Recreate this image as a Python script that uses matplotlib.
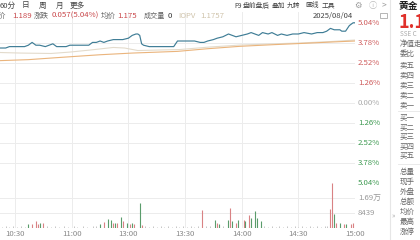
import matplotlib
matplotlib.use('Agg')
import matplotlib.pyplot as plt
from matplotlib.patches import Rectangle
from matplotlib.transforms import blended_transform_factory

plt.rcParams['font.family'] = ['Noto Sans CJK SC', 'DejaVu Sans']

# 数据 (分钟: 9:30 开盘 = 0, 午休合并, 15:00 = 240)
prev_close = 1.132

price_time = [52, 55, 57, 59, 63, 65, 67, 69, 71, 73, 76, 78, 80, 82, 85, 87, 89, 94,
              99, 101, 103, 105, 107, 109, 112, 114, 117, 120, 122, 124, 125, 126, 127,
              128, 131, 137, 142, 144, 146, 147, 151, 155, 158, 160, 162, 165, 167, 170,
              173, 175, 177, 180, 183, 185, 187, 189, 191, 194, 196, 199, 201, 204, 207,
              210, 213, 217, 220, 223, 225, 227, 229, 232, 233, 235, 237, 238, 239, 240]
price = [1.171, 1.171, 1.172, 1.172, 1.172, 1.172, 1.173, 1.175, 1.173, 1.173, 1.172,
         1.173, 1.174, 1.172, 1.172, 1.172, 1.173, 1.173, 1.173, 1.175, 1.175, 1.176,
         1.175, 1.176, 1.177, 1.177, 1.177, 1.178, 1.180, 1.181, 1.181, 1.180, 1.174,
         1.173, 1.172, 1.172, 1.172, 1.172, 1.176, 1.176, 1.176, 1.176, 1.175, 1.175,
         1.176, 1.177, 1.178, 1.179, 1.181, 1.180, 1.179, 1.180, 1.181, 1.182, 1.181,
         1.180, 1.182, 1.181, 1.182, 1.180, 1.181, 1.180, 1.181, 1.181, 1.182, 1.181,
         1.182, 1.182, 1.183, 1.185, 1.184, 1.184, 1.183, 1.183, 1.187, 1.188, 1.189, 1.189]

avg_time = [52, 67, 85, 105, 122, 146, 162, 179, 197, 214, 228, 240]
avg_price = [1.1620, 1.1627, 1.1644, 1.1662, 1.1674, 1.1686, 1.1705, 1.1722, 1.1734,
             1.1744, 1.1753, 1.1760]

iopv_time = [52, 63, 79, 89, 100, 112, 118, 125, 137, 147, 163, 179, 195, 211, 227, 240]
iopv = [1.1678, 1.1674, 1.1671, 1.1681, 1.1696, 1.1714, 1.1710, 1.1692, 1.1696, 1.1699,
        1.1717, 1.1731, 1.1739, 1.1746, 1.1756, 1.1767]

vol_time = [67, 69, 71, 72, 73, 75, 105, 107, 109, 111, 112, 113, 114, 116, 117, 119,
            121, 122, 123, 126, 127, 159, 166, 167, 168, 173, 174, 175, 177, 178, 181,
            182, 184, 185, 187, 188, 190, 227, 228, 229, 230, 232, 234, 235, 238, 239]
vol = [1800, 1800, 3400, 1800, 2400, 2400, 1800, 3000, 4800, 4000, 2800, 2400, 2800,
       6000, 3400, 2400, 1800, 2400, 1800, 13900, 1400, 9800, 4400, 2800, 2000, 4400,
       10900, 3400, 2400, 4400, 4400, 3400, 6800, 5400, 9600, 5400, 3400, 10400, 25300,
       7400, 2400, 2400, 1800, 1800, 2000, 2800]
vol_up = [0, 1, 1, 1, 0, 1, 0, 1, 0, 0, 1, 0, 1, 0, 1, 0, 1, 0, 1, 0, 1, 1, 0, 1, 0, 0,
          1, 0, 1, 0, 1, 0, 1, 0, 0, 0, 0, 1, 1, 0, 1, 0, 1, 0, 1, 1]

small_time = [53, 55, 57, 59, 61, 63, 65, 77, 79, 81, 83, 86, 88, 91, 93, 96, 98, 101,
              103, 129, 131, 133, 135, 137, 139, 141, 143, 145, 147, 149, 151, 153, 155,
              157, 161, 163, 170, 192, 194, 196, 198, 200, 202, 204, 206, 208, 210, 212,
              214, 216, 218, 220, 222, 224, 225]
small_vol = [500, 600, 500, 600, 500, 600, 500, 600, 500, 600, 500, 600, 500, 600, 500,
             600, 500, 700, 600, 600, 500, 600, 500, 600, 500, 600, 500, 600, 500, 600,
             500, 600, 500, 600, 700, 600, 700, 600, 500, 600, 500, 600, 500, 700, 500,
             600, 500, 600, 500, 700, 500, 600, 500, 700, 800]

pct_ticks = [5.04, 3.78, 2.52, 1.26, 0.00, -1.26, -2.52, -3.78, -5.04]
vol_ticks = [8439, 16878]
time_ticks = [60, 90, 120, 150, 180, 210, 240]
time_labels = ['10:30', '11:00', '13:00', '13:30', '14:00', '14:30', '15:00']

W, H = 420, 240
fig = plt.figure(figsize=(4.2, 2.4), dpi=100)
fig.patch.set_facecolor('white')


def px_axes(x0, y0, x1, y1):
    return fig.add_axes([x0 / W, 1 - y1 / H, (x1 - x0) / W, (y1 - y0) / H])


def ftext(x, y, s, **kw):
    kw.setdefault('va', 'center')
    kw.setdefault('fontsize', 5.4)
    fig.text(x / W, 1 - y / H, s, **kw)


grid_c = '#ececec'

# 价格区
ax = px_axes(0, 12, 355, 182.7)
pct = [(p / prev_close - 1) * 100 for p in price]
pct_avg = [(p / prev_close - 1) * 100 for p in avg_price]
pct_iopv = [(p / prev_close - 1) * 100 for p in iopv]
ax.plot(iopv_time, pct_iopv, color='#e3dbcc', lw=0.8)
ax.plot(avg_time, pct_avg, color='#eab47c', lw=0.8)
ax.plot(price_time, pct, color='#3f7d96', lw=0.85)
ax.set_xlim(52, 240)
ax.set_ylim(-5.04, 5.04 + 10.7 * 0.063)
ax.set_xticks(time_ticks[:-1])
ax.set_yticks(pct_ticks)
ax.grid(True, color=grid_c, lw=0.7)
ax.tick_params(length=0, labelbottom=False, labelleft=False)
for s in ax.spines.values():
    s.set_visible(False)

tr = blended_transform_factory(fig.transFigure, ax.transData)
for v in pct_ticks:
    if v > 0:
        c = '#cf5c5c'
    elif v < 0:
        c = '#3f9a52'
    else:
        c = '#aaaaaa'
    ax.text(358 / W, v, '%.2f%%' % abs(v), transform=tr, color=c, fontsize=5.6,
            va='center', ha='left', clip_on=False)

# 成交量区
axv = px_axes(0, 182.7, 355, 227.5)
for t, v, u in zip(vol_time, vol, vol_up):
    axv.vlines(t, 0, v, color='#d98284' if u else '#5a9c6b', lw=0.8)
axv.vlines(small_time, 0, small_vol, color='#bcbcbc', lw=0.6)
axv.set_xlim(52, 240)
axv.set_ylim(0, 25317)
axv.set_yticks(vol_ticks)
axv.set_xticks(time_ticks)
axv.set_xticklabels(time_labels, fontsize=5.6, color='#888888')
axv.grid(True, color=grid_c, lw=0.7)
axv.tick_params(length=0, labelleft=False, pad=1.5)
for s in axv.spines.values():
    s.set_visible(False)
trv = blended_transform_factory(fig.transFigure, axv.transData)
axv.text(358 / W, 16878, '1.69万', transform=trv, color='#999999', fontsize=5.6,
         va='center', ha='left', clip_on=False)
axv.text(358 / W, 8439, '8439', transform=trv, color='#999999', fontsize=5.6,
         va='center', ha='left', clip_on=False)

# 顶部工具栏
for x, s in [(0, '60分'), (22, '日'), (39, '周'), (56, '月'), (70, '更多')]:
    ftext(x, 5.5, s, color='#444444', fontsize=5.5)
for x, s in [(234, 'F9'), (243, '盘前盘后'), (272, '叠加'), (287, '九转'),
             (305, '画线'), (322, '工具')]:
    ftext(x, 5.5, s, color='#444444', fontsize=4.9)
ftext(354, 5.5, '⚙', color='#999999', fontsize=6)
ftext(369, 5.5, 'ⓘ', color='#bbbbbb', fontsize=6)
ftext(382, 5.5, '>', color='#999999', fontsize=6)

ftext(-2, 16, '价', color='#666666')
ftext(12, 16, '1.189', color='#c9474a', fontsize=5.6)
ftext(34, 16, '涨跌', color='#666666')
ftext(52, 16, '0.057(5.04%)', color='#c9474a', fontsize=5.6)
ftext(101, 16, '均价', color='#666666')
ftext(117, 16, '1.175', color='#c9474a', fontsize=5.6)
ftext(144, 16, '成交量', color='#666666', fontsize=5.1)
ftext(168, 16, '0', color='#333333', fontsize=5.6)
ftext(178, 16, 'IOPV', color='#cfc3aa', fontsize=5.6)
ftext(200, 16, '1.1757', color='#cfc3aa', fontsize=5.6)
ftext(353, 16, '2025/08/04', color='#444444', ha='right', fontsize=5.5)
fig.add_artist(Rectangle((380 / W, 1 - 18 / H), 7 / W, 5 / H, fill=False,
                         edgecolor='#aaaaaa', lw=0.6))

# 右侧面板
fig.add_artist(plt.Line2D([390 / W, 390 / W], [0, 1], color='#e6e6e6', lw=0.8))
fig.add_artist(plt.Line2D([398 / W, 1], [1 - 111 / H, 1 - 111 / H], color='#e6e6e6', lw=0.6))
fig.add_artist(plt.Line2D([398 / W, 1], [1 - 164 / H, 1 - 164 / H], color='#e6e6e6', lw=0.6))
ftext(399, 6.5, '黄金', color='#222222', fontsize=7, weight='bold')
ftext(398, 22, '1.1', color='#e0302a', fontsize=13, weight='bold')
ftext(400, 34, 'SSE C', color='#aaaaaa', fontsize=4.6)
side = [('净值走', 44), ('委比', 54), ('卖五', 65), ('卖四', 75), ('卖三', 85),
        ('卖二', 95), ('卖一', 105), ('买一', 118), ('买二', 127.5), ('买三', 137),
        ('买四', 146.5), ('买五', 156), ('总量', 172), ('现手', 182), ('外盘', 192),
        ('总额', 202), ('均价', 212), ('最高', 222), ('涨停', 232)]
for s, y in side:
    ftext(400, y, s, color='#666666', fontsize=5.4)
ftext(392, 216, '»', color='#aaaaaa', fontsize=5)

fig.savefig('out.png', dpi=100, facecolor='white')
